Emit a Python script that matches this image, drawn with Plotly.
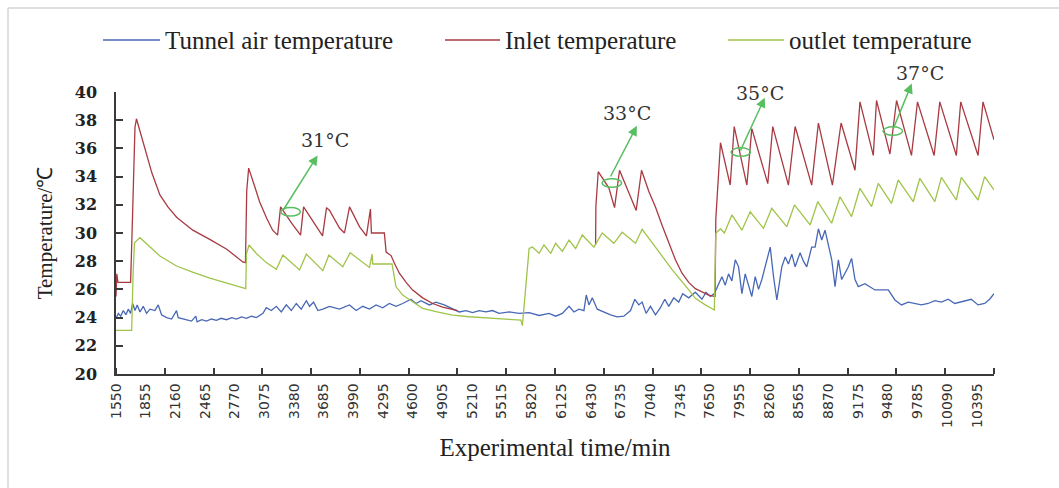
import plotly.graph_objects as go

# ---------------- data ----------------
x_labels = [1550, 1855, 2160, 2465, 2770, 3075, 3380, 3685, 3990, 4295, 4600, 4905,
            5210, 5515, 5820, 6125, 6430, 6735, 7040, 7345, 7650, 7955, 8260, 8565,
            8870, 9175, 9480, 9785, 10090, 10395]
y_ticks = [20, 22, 24, 26, 28, 30, 32, 34, 36, 38, 40]

tunnel_t = [1550, 1574, 1598, 1625, 1652, 1676, 1700, 1721, 1745, 1768, 1796, 1830, 1864,
            1899, 1950, 1984, 2018, 2070, 2121, 2172, 2189, 2257, 2326, 2370, 2383, 2430,
            2480, 2530, 2582, 2630, 2685, 2740, 2787, 2840, 2890, 2940, 2992, 3060, 3094,
            3146, 3197, 3248, 3300, 3351, 3402,
            3453, 3505, 3539, 3580, 3624, 3675, 3744, 3812, 3846, 3949, 4017, 4085, 4154,
            4222, 4290, 4358, 4427, 4495, 4580, 4632, 4683, 4769, 4837, 4922, 5008, 5076,
            5145, 5213, 5281, 5350, 5418, 5486, 5589, 5691, 5794, 5897, 5999, 6067, 6135,
            6204, 6255, 6306, 6357, 6381, 6409, 6443, 6494, 6561, 6631, 6699, 6767, 6836,
            6880, 6921, 6955, 6996, 7041, 7092, 7143, 7188, 7229, 7280, 7331, 7372, 7434,
            7502, 7570, 7611, 7656, 7697, 7775, 7809, 7843, 7877, 7912, 7946, 7980, 8014,
            8049, 8082, 8117, 8151, 8185, 8236, 8271, 8305, 8339, 8390, 8425, 8458, 8493,
            8527, 8578, 8612, 8646, 8697, 8732, 8766, 8800, 8834, 8869, 8903, 8937, 8971,
            9005, 9074, 9107, 9142, 9176, 9244, 9347, 9484, 9552, 9620, 9689, 9757, 9825,
            9894, 9962, 10030, 10099, 10167, 10235, 10337, 10406, 10474, 10525, 10570]
tunnel_v = [23.95, 24.3, 24.1, 24.5, 24.2, 24.6, 24.3, 25.0, 24.5, 24.9, 24.4, 24.8, 24.3,
            24.6, 24.5, 24.9, 24.2, 24.0, 23.9, 24.5, 24.0, 23.85, 23.75, 24.1, 23.7, 23.85,
            23.75, 23.9, 23.8, 23.95, 23.85, 24.0, 23.9, 24.05, 23.95, 24.1, 24.0, 24.3, 24.7,
            24.5, 24.8, 24.4, 24.9, 24.5, 25.0,
            24.6, 25.2, 24.8, 25.1, 24.5, 24.6, 24.8, 24.7, 24.6, 24.9, 24.5, 24.8, 24.6,
            24.9, 24.7, 25.0, 24.8, 25.0, 25.3, 25.0, 25.2, 24.9, 25.1, 24.9, 24.6, 24.4,
            24.5, 24.35, 24.5, 24.4, 24.5, 24.3, 24.4, 24.3, 24.35, 24.15, 24.3, 24.1, 24.3,
            24.8, 24.4, 24.6, 24.5, 25.6, 24.9, 25.4, 24.6, 24.4, 24.2, 24.05, 24.1, 24.5,
            25.3, 24.9, 25.1, 24.3, 24.8, 24.2, 24.7, 25.3, 24.8, 25.4, 25.1, 25.7, 25.4,
            25.8, 25.3, 25.8, 25.5, 25.7, 26.9, 26.3, 27.1, 26.6, 28.1, 27.6, 25.7, 27.1,
            26.2, 25.5, 26.9, 26.0, 26.7, 28.1, 29.0, 26.9, 25.25, 27.6, 28.3, 27.8, 28.5,
            27.6, 28.6, 28.0, 27.6, 29.0, 29.0, 30.3, 29.5, 30.2, 29.0, 28.1, 26.2, 28.1,
            26.7, 27.6, 28.2, 26.7, 26.2, 26.4, 25.96, 25.96, 25.25, 24.9, 25.1, 25.0, 24.9,
            25.0, 25.2, 25.1, 25.3, 25.0, 25.1, 25.3, 24.9, 25.0, 25.3, 25.7]

inlet_t = [1550, 1558, 1570, 1700, 1715, 1745, 1760, 1847, 1919, 2001, 2083, 2175, 2339,
           2513, 2688, 2852, 2880, 2893, 2913, 2975, 3026, 3098, 3159, 3210, 3241, 3354,
           3446, 3477, 3590, 3672, 3713, 3744, 3846, 3897, 3949, 4051, 4123, 4164, 4174,
           4307, 4325, 4376, 4410, 4461, 4530, 4598, 4700, 4803, 4905, 5008, 5059, 5500,
           6477, 6480, 6504, 6613, 6672, 6723, 6894, 6949, 7024, 7092, 7160, 7229, 7297,
           7365, 7434, 7502, 7570, 7639, 7697, 7705, 7712, 7760, 7860, 7901, 8031, 8082,
           8246, 8297, 8458, 8527, 8697, 8766, 8910, 8999, 9142, 9193, 9330, 9363, 9501,
           9569, 9722, 9784, 9955, 10013, 10183, 10228, 10406, 10457, 10570]
inlet_v = [25.5, 27.1, 26.5, 26.5, 30.0, 37.5, 38.1, 35.9, 34.25, 32.7, 31.85, 31.1, 30.2,
           29.55, 28.85, 27.95, 27.9, 33.0, 34.6, 33.3, 32.2, 31.05, 30.2, 29.85, 31.85, 30.7,
           29.85, 31.85, 30.7, 29.8, 31.8, 31.6, 30.35, 30.0, 31.85, 30.45, 29.8, 31.7, 30.0,
           30.0, 28.65, 28.4, 27.85, 27.15, 26.5, 25.95, 25.4, 25.0, 24.75, 24.6, 24.5, None,
           29.15, 31.9, 34.35, 33.2, 31.8, 34.45, 31.6, 34.45, 32.95, 31.85, 30.55, 29.25, 28.1,
           27.15, 26.5, 26.05, 25.8, 25.6, 25.5, 25.5, 31.0, 36.4, 33.4, 37.55, 33.4, 37.4,
           33.5, 37.55, 33.4, 37.55, 33.4, 37.8, 33.4, 37.8, 34.45, 39.3, 35.5, 39.4, 35.6,
           39.4, 35.5, 39.3, 35.5, 39.3, 35.5, 39.3, 35.5, 39.3, 36.6]

outlet_t = [1550, 1711, 1725, 1740, 1796, 1899, 2001, 2172, 2343, 2514, 2685, 2872, 2883,
            2890, 2917, 2992, 3094, 3197, 3265, 3436, 3505, 3675, 3737, 3880, 3955, 4154,
            4181, 4188, 4386, 4426, 4495, 4598, 4700, 4837, 5008, 5179, 5384, 5589, 5709,
            5725, 5794, 5828, 5897, 5947, 6016, 6067, 6135, 6204, 6272, 6340, 6460, 6545,
            6665, 6750, 6887, 6955, 7092, 7263, 7434, 7502, 7604, 7697, 7712, 7760, 7800,
            7877, 7980, 8065, 8202, 8287, 8441, 8520, 8681, 8759, 8902, 8988, 9107, 9193,
            9312, 9381, 9517, 9586, 9740, 9808, 9962, 10030, 10183, 10234, 10406, 10474, 10570]
outlet_v = [23.1, 23.1, 27.0, 29.3, 29.67, 29.0, 28.37, 27.66, 27.2, 26.8, 26.43, 26.03, 26.05,
            28.5, 29.15, 28.55, 27.9, 27.42, 28.44, 27.38, 28.5, 27.33, 28.44, 27.6, 28.6, 27.56,
            28.5, 27.8, 27.8, 26.2, 25.6, 25.13, 24.66, 24.42, 24.18, 24.06, 23.95, 23.88, 23.83,
            23.43, 28.9, 29.0, 28.56, 29.15, 28.56, 29.27, 28.7, 29.5, 28.9, 29.86, 29.0, 30.0,
            29.27, 30.05, 29.27, 30.26, 29.0, 27.4, 25.96, 25.37, 24.9, 24.54, 29.98, 30.3, 30.0,
            31.28, 30.2, 31.5, 30.33, 31.75, 30.45, 31.99, 30.57, 32.22, 30.69, 32.57, 31.16, 33.17,
            31.87, 33.52, 32.1, 33.76, 32.22, 33.88, 32.22, 33.95, 32.34, 33.95, 32.34, 34.0, 33.05]

# setpoint callouts: label, label position, arrow tail, arrow head, marked ellipse centre
callouts = [
    ("31°C", (3700, 36.6), (3262, 31.56), (3621, 35.5), (3344, 31.51)),
    ("33°C", (6798, 38.5), (6623, 33.9), (6901, 37.6), (6644, 33.55)),
    ("35°C", (8164, 39.95), (7958, 35.74), (8215, 39.6), (7969, 35.74)),
    ("37°C", (9807, 41.35), (9530, 37.3), (9725, 40.6), (9530, 37.23)),
]

# ---------------- styling ----------------
BLUE = "rgb(72,104,182)"
RED = "rgb(168,58,66)"
GREEN = "rgb(160,196,74)"
ARROW = "rgb(88,190,96)"
AXIS = "#3a3a3a"
X_RANGE = [1550, 10570]
Y_RANGE = [20, 40]
L, R, T, B = 116, 65, 92, 114
W, H = 1059, 488
PW, PH = W - L - R, H - T - B


def px_x(p):
    return (p - L) / PW


def px_y(p):
    return (H - B - p) / PH


def val_to_dom_y(v):
    return (v - Y_RANGE[0]) / (Y_RANGE[1] - Y_RANGE[0])


fig = go.Figure()
fig.add_trace(go.Scatter(x=tunnel_t, y=tunnel_v, mode="lines", name="Tunnel air temperature",
                         line=dict(color=BLUE, width=1.3), showlegend=False))
fig.add_trace(go.Scatter(x=inlet_t, y=inlet_v, mode="lines", name="Inlet temperature",
                         line=dict(color=RED, width=1.3), showlegend=False, connectgaps=False))
fig.add_trace(go.Scatter(x=outlet_t, y=outlet_v, mode="lines", name="outlet temperature",
                         line=dict(color=GREEN, width=1.3), showlegend=False))

tick_marks = [X_RANGE[0] + k * (X_RANGE[1] - X_RANGE[0]) / 18 for k in range(19)]

fig.update_layout(
    width=W, height=H, autosize=False,
    margin=dict(l=L, r=R, t=T, b=B),
    paper_bgcolor="white", plot_bgcolor="white",
    xaxis=dict(
        range=X_RANGE, tickmode="array", tickvals=x_labels, ticktext=[str(v) for v in x_labels],
        tickangle=-90, ticks="", showline=True, linecolor=AXIS, linewidth=1.5,
        showgrid=False, zeroline=False,
        tickfont=dict(family="DejaVu Sans", size=14, color="#333"),
        ticklabelstandoff=2,
        minor=dict(tickmode="array", tickvals=tick_marks, ticks="inside", ticklen=6,
                   tickwidth=1.5, tickcolor=AXIS, showgrid=False),
        title=dict(text="Experimental time/min", standoff=12,
                   font=dict(family="Liberation Serif", size=25, color="#222")),
    ),
    yaxis=dict(
        range=Y_RANGE, tickmode="array", tickvals=y_ticks, ticks="inside", ticklen=7,
        tickwidth=1.5, tickcolor=AXIS, showline=True, linecolor=AXIS, linewidth=1.5,
        showgrid=False, zeroline=False, ticklabelstandoff=14,
        tickfont=dict(family="DejaVu Serif", size=16, color="#222", weight="bold"),
        title=dict(text="Temperature/℃", standoff=16,
                   font=dict(family="Liberation Serif", size=21, color="#222")),
    ),
)

shapes = []
annotations = []
# outer frame (top and left edges of the exported picture)
shapes.append(dict(type="line", xref="paper", yref="paper", x0=px_x(8), x1=px_x(1070),
                   y0=px_y(8), y1=px_y(8), line=dict(color="#d4d4d4", width=1.5)))
shapes.append(dict(type="line", xref="paper", yref="paper", x0=px_x(8), x1=px_x(8),
                   y0=px_y(8), y1=px_y(500), line=dict(color="#d4d4d4", width=1.5)))

# legend drawn across the top
legend_items = [("Tunnel air temperature", BLUE, 103, 160),
                ("Inlet temperature", RED, 445, 500),
                ("outlet temperature", GREEN, 728, 784)]
for name, col, a, b in legend_items:
    shapes.append(dict(type="line", xref="paper", yref="paper", x0=px_x(a), x1=px_x(b),
                       y0=px_y(40), y1=px_y(40), line=dict(color=col, width=1.5)))
    annotations.append(dict(text=name, xref="paper", yref="paper", x=px_x(b + 3), y=px_y(41),
                            xanchor="left", yanchor="middle", showarrow=False,
                            font=dict(family="Liberation Serif", size=25, color="#222")))

for label, (lx, ly), (tx, ty), (hx, hy), (ex, ey) in callouts:
    annotations.append(dict(text=label, x=lx, y=val_to_dom_y(ly), xref="x", yref="y domain",
                            xanchor="center", yanchor="middle", showarrow=False,
                            font=dict(family="DejaVu Serif", size=19, color="#333")))
    annotations.append(dict(text="", x=hx, y=val_to_dom_y(hy), ax=tx, ay=val_to_dom_y(ty),
                            xref="x", yref="y domain", axref="x", ayref="y domain",
                            showarrow=True, arrowhead=2, arrowsize=1.3, arrowwidth=1.5,
                            arrowcolor=ARROW))
    shapes.append(dict(type="circle", xref="x", yref="y", x0=ex - 100, x1=ex + 100,
                       y0=ey - 0.3, y1=ey + 0.3, line=dict(color=ARROW, width=1.5)))

fig.update_layout(shapes=shapes, annotations=annotations)
fig.write_html("out.html")
